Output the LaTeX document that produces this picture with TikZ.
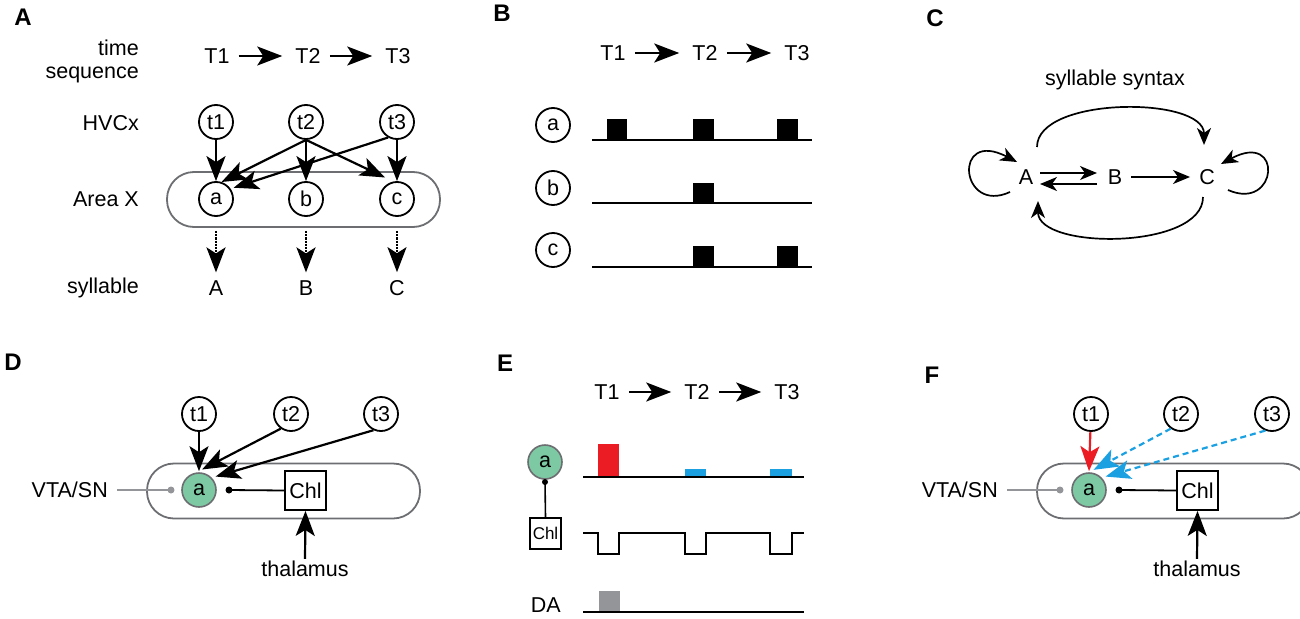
\documentclass[tikz,border=0pt]{standalone}
\usepackage{fontspec}
\setmainfont{Liberation Sans}
\usetikzlibrary{arrows.meta}
\definecolor{grn}{HTML}{7DC9A3}
\definecolor{rd}{HTML}{EC1C24}
\definecolor{bl}{HTML}{1BA1E2}
\definecolor{gr}{HTML}{939598}
\definecolor{rim}{HTML}{6D6E71}
\begin{document}
\begin{tikzpicture}[x=1pt,y=-1pt,
  every node/.style={font=\fontsize{21.5}{24}\selectfont, inner sep=2pt},
  lab/.style={font=\fontsize{24}{28}\selectfont\bfseries},
  circ/.style={draw, circle, line width=1.8pt, minimum size=34pt, inner sep=0pt, fill=white},
  gcirc/.style={draw=rim, circle, line width=1.6pt, minimum size=34pt, inner sep=0pt, fill=grn},
  area/.style={draw=rim, line width=1.8pt, rounded corners=27pt, minimum width=273pt, minimum height=55pt},
  box/.style={draw, line width=1.8pt, minimum width=41pt, minimum height=39pt, inner sep=0pt},
  arr/.style={line width=2.2pt, -{Stealth[length=25pt,width=19pt,inset=6pt]}},
  tarr/.style={arr, shorten <=7pt, shorten >=11pt},
  sarr/.style={line width=1.7pt, -{Stealth[length=17pt,width=14pt,inset=5pt]}},
  tline/.style={line width=1.8pt}
]
\useasboundingbox (0,0) rectangle (1300,618);

% ---------------- Panel A
\node[lab] (LA) at (23,17) {A};
\node[anchor=east] (tA) at (141,48) {time};
\node[anchor=east] (sqA) at (141,75) {sequence};
\node (T1A) at (217,56) {T1};
\node (T2A) at (308,56) {T2};
\node (T3A) at (398,56) {T3};
\draw[tarr] (T1A.east) -- (T2A.west);
\draw[tarr] (T2A.east) -- (T3A.west);
\node[anchor=east] (hvA) at (141,123) {HVCx};
\node[anchor=east] (axA) at (141,199) {Area X};
\node[anchor=east] (syA) at (141,288) {syllable};
\node[area] (areaA) at (303.5,199.5) {};
\node[circ] (t1A) at (216,122) {t1};
\node[circ] (t2A) at (306,122) {t2};
\node[circ] (t3A) at (397,122) {t3};
\node[circ] (aA) at (216,199) {a};
\node[circ] (bA) at (306,199) {b};
\node[circ] (cA) at (397,199) {c};
\node (SA) at (216,288) {A};
\node (SB) at (306,288) {B};
\node (SC) at (397,288) {C};
\draw[arr] (t1A) -- (aA);
\draw[arr] (t2A) -- (bA);
\draw[arr] (t3A) -- (cA);
\draw[arr] (t2A.south) -- (aA.72);
\draw[arr] (t2A.south) -- ([shift={(-3pt,6pt)}]cA.120);
\draw[arr] (t3A.-120) -- ([shift={(3pt,1pt)}]aA.35);
\draw[arr, densely dotted, shorten >=6pt] ([yshift=-3pt]aA |- areaA.south) -- (SA.north);
\draw[arr, densely dotted, shorten >=6pt] ([yshift=-3pt]bA |- areaA.south) -- (SB.north);
\draw[arr, densely dotted, shorten >=6pt] ([yshift=-3pt]cA |- areaA.south) -- (SC.north);

% ---------------- Panel B
\node[lab] (LB) at (502,13) {B};
\node (T1B) at (613,53) {T1};
\node (T2B) at (705,53) {T2};
\node (T3B) at (797,53) {T3};
\draw[tarr] (T1B.east) -- (T2B.west);
\draw[tarr] (T2B.east) -- (T3B.west);
\node[circ] (aB) at (553,125) {a};
\node[circ] (bB) at (553,188) {b};
\node[circ] (cB) at (553,250) {c};
\draw[tline] (592,140) -- (812,140);
\draw[tline] (592,203) -- (812,203);
\draw[tline] (592,267) -- (812,267);
\fill (607,119) rectangle (627,140);
\fill (693,119) rectangle (714,140);
\fill (777,119) rectangle (798,140);
\fill (693,183) rectangle (714,203);
\fill (693,246) rectangle (714,267);
\fill (777,246) rectangle (798,267);

% ---------------- Panel C
\node[lab] (LC) at (935,18) {C};
\node (ssC) at (1115,80) {syllable syntax};
\node (AC) at (1026,177) {A};
\node (BC) at (1115,177) {B};
\node (CC) at (1207,177) {C};
\coordinate (ab1) at (1040,173);
\coordinate (ab2) at (1097,173);
\coordinate (ba1) at (1097,184);
\coordinate (ba2) at (1040,184);
\draw[sarr] (ab1) -- (ab2);
\draw[sarr] (ba1) -- (ba2);
\draw[sarr, shorten <=7pt, shorten >=7pt] (BC.east) -- (CC.west);
\coordinate (topS) at (1037,147);
\coordinate (topE) at (1204,145);
\draw[sarr] (topS) .. controls (1037,96) and (1204,96) .. (topE);
\coordinate (botS) at (1203,197);
\coordinate (botE) at (1038,201);
\draw[sarr] (botS) .. controls (1203,250) and (1038,250) .. (botE);
\coordinate (lAs) at (1010,192);
\coordinate (lAe) at (1017,162);
\draw[sarr] (lAs) .. controls (960,215) and (952,128) .. (lAe);
\coordinate (lCs) at (1228,190);
\coordinate (lCe) at (1221,164);
\draw[sarr] (lCs) .. controls (1278,212) and (1284,130) .. (lCe);

% ---------------- Panel D
\node[lab] (LD) at (13,362) {D};
\node[area] (areaD) at (283.5,491) {};
\node[circ] (t1D) at (199,414) {t1};
\node[circ] (t2D) at (291,414) {t2};
\node[circ] (t3D) at (381,414) {t3};
\node[gcirc] (aD) at (199,490) {a};
\node[box] (chlD) at (305.5,490.5) {Chl};
\node (thD) at (305,569) {thalamus};
\node[anchor=east] (vtD) at (110,490) {VTA/SN};
\coordinate (dotD) at (229,490);
\coordinate (gdD) at (171,490);
\draw[tline] (chlD.west) -- (dotD);
\fill (dotD) circle (3.5pt);
\draw[gr, line width=1.6pt] (vtD.east) ++(7pt,0) -- (gdD);
\fill[gr] (gdD) circle (3.5pt);
\draw[arr] (thD.north) -- (chlD.south);
\draw[arr] (t1D) -- ([yshift=1pt]aD.north);
\draw[arr] (t2D.-125) -- ([shift={(0pt,3pt)}]aD.80);
\draw[arr] (t3D.-115) -- ([shift={(3pt,2pt)}]aD.40);

% ---------------- Panel E
\node[lab] (LE) at (505,363) {E};
\node (T1E) at (607,392) {T1};
\node (T2E) at (697,392) {T2};
\node (T3E) at (787,392) {T3};
\draw[tarr] (T1E.east) -- (T2E.west);
\draw[tarr] (T2E.east) -- (T3E.west);
\node[gcirc] (aE) at (545,462) {a};
\node[draw, line width=1.6pt, minimum width=31pt, minimum height=31pt, inner sep=0pt, font=\fontsize{17}{20}\selectfont] (chlE) at (545.5,533.5) {Chl};
\coordinate (dotE) at (545,482);
\draw[line width=1.6pt] (chlE.north) -- (dotE);
\fill (dotE) circle (3pt);
\node[anchor=east] (daE) at (563,605) {DA};
\fill[rd] (598,444) rectangle (619,477);
\fill[bl] (685,469) rectangle (706,477);
\fill[bl] (770,469) rectangle (792,477);
\draw[tline] (583,477) -- (804,477);
\draw[tline] (583,533) -- (598,533) -- (598,554) -- (619,554) -- (619,533) -- (685,533) -- (685,554) -- (706,554) -- (706,533) -- (770,533) -- (770,554) -- (792,554) -- (792,533) -- (804,533);
\fill[gr] (599,591) rectangle (620,612);
\draw[tline] (583,612) -- (804,612);

% ---------------- Panel F
\node[lab] (LF) at (932,375) {F};
\node[area] (areaF) at (1173.5,491) {};
\node[circ] (t1F) at (1091,414) {t1};
\node[circ] (t2F) at (1181,414) {t2};
\node[circ] (t3F) at (1272,414) {t3};
\node[gcirc] (aF) at (1089,490) {a};
\node[box] (chlF) at (1197.5,490.5) {Chl};
\node (thF) at (1197,569) {thalamus};
\node[anchor=east] (vtF) at (1000,490) {VTA/SN};
\coordinate (dotF) at (1119,490);
\coordinate (gdF) at (1060,490);
\draw[tline] (chlF.west) -- (dotF);
\fill (dotF) circle (3.5pt);
\draw[gr, line width=1.6pt] (vtF.east) ++(7pt,0) -- (gdF);
\fill[gr] (gdF) circle (3.5pt);
\draw[arr] (thF.north) -- (chlF.south);
\draw[arr, rd] (t1F) -- ([yshift=1pt]aF.north);
\draw[arr, bl, dash pattern=on 6pt off 4pt] (t2F.-125) -- ([shift={(0pt,3pt)}]aF.75);
\draw[arr, bl, dash pattern=on 6pt off 4pt] (t3F.-112) -- ([shift={(3pt,2pt)}]aF.40);
\end{tikzpicture}
\end{document}
